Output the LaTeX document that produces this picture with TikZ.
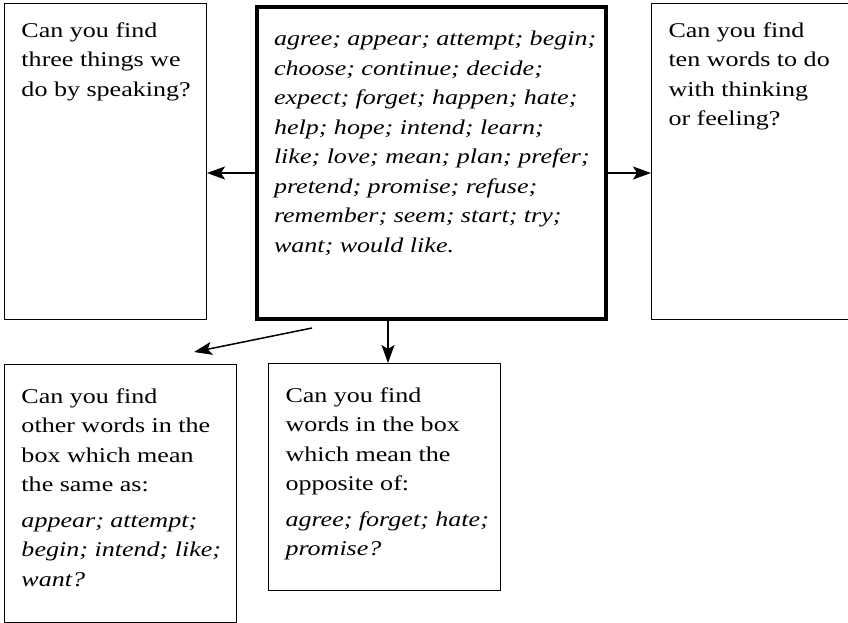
\documentclass[tikz,border=0pt]{standalone}
\usepackage{fontspec}
\setmainfont{Liberation Serif}[FakeStretch=1.24]
\usepackage{tikz}
\usetikzlibrary{arrows.meta,positioning,calc}
\hfuzz=60pt
\newcommand{\panelbox}[6]{
  \node[panel,#5] (#1) at #2 {\parbox[t][#4][t]{#3}{\leftskip=17pt\rightskip=0pt plus 1fil #6}};
}

\begin{document}
\begin{tikzpicture}[x=1pt,y=-1pt,>={Stealth[length=18pt,width=13pt,inset=4pt]},
  panel/.style={draw,anchor=north west,inner xsep=0pt,line width=1pt,
    font=\fontsize{21}{29.5}\selectfont},
  link/.style={->,line width=1.5pt}]
  \clip (0,0) rectangle (848,622);
  \panelbox{speak}{(4,3)}{202pt}{278pt}{inner ysep=19pt}{Can you find\\three things we\\do by speaking?}
  \panelbox{core}{(255,5)}{349pt}{264pt}{inner ysep=24pt,line width=4pt}{\itshape agree; appear; attempt; begin;\\choose; continue; decide;\\expect; forget; happen; hate;\\help; hope; intend; learn;\\like; love; mean; plan; prefer;\\pretend; promise; refuse;\\remember; seem; start; try;\\want; would like.}
  \panelbox{think}{(651,3)}{200pt}{278pt}{inner ysep=19pt}{Can you find\\ten words to do\\with thinking\\or feeling?}
  \panelbox{same}{(4,364)}{232pt}{210pt}{inner ysep=24pt}{Can you find\\other words in the\\box which mean\\the same as:\\[6pt]{\itshape appear; attempt;\\begin; intend; like;\\want?}}
  \panelbox{opposite}{(268,363)}{232pt}{179pt}{inner ysep=24pt}{Can you find\\words in the box\\which mean the\\opposite of:\\[6pt]{\itshape agree; forget; hate;\\promise?}}
  % connectors
  \coordinate (mid) at (0,173);
  \coordinate (drop) at (388,0);
  \draw[link] (core.west |- mid) -- (speak.east |- mid);
  \draw[link] (core.east |- mid) -- (think.west |- mid);
  \draw[link] (core.south -| drop) -- (opposite.north -| drop);
  \draw[link] ([shift={(57,7)}]core.south west) -- ([shift={(-43,-12)}]same.north east);
\end{tikzpicture}
\end{document}
